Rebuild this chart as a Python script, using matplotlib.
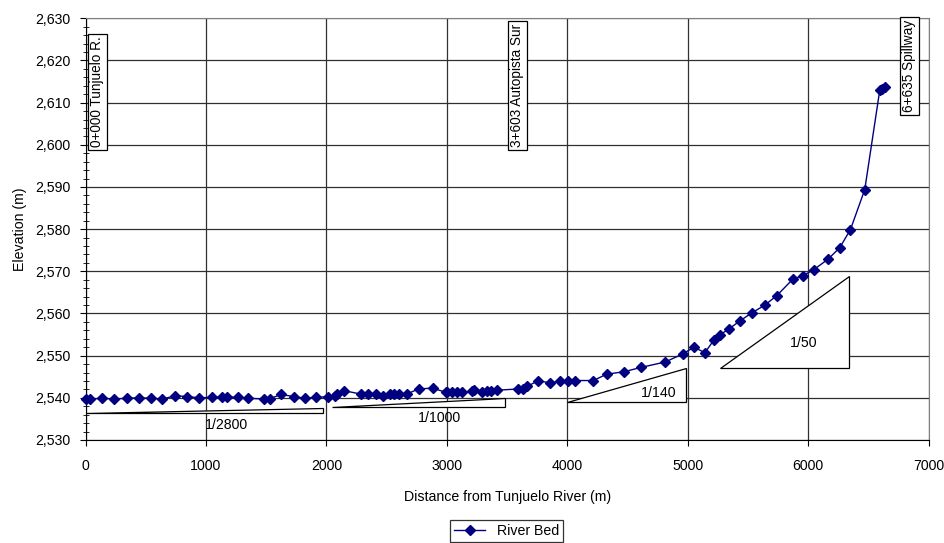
import matplotlib
matplotlib.use("Agg")
import matplotlib.pyplot as plt
from matplotlib.patches import Polygon
from matplotlib.ticker import MultipleLocator, FuncFormatter

plt.rcParams["font.family"] = ["Liberation Sans", "DejaVu Sans"]

# ---------------------------------------------------
#   river bed profile (chainage in m, elevation in m)
# ---------------------------------------------------

distance = [0, 37, 140, 237, 342, 441, 544, 638, 743, 845, 944, 1050,
            1135, 1177, 1263, 1351, 1481, 1531, 1622, 1728, 1824, 1916, 2015,
            2071, 2085, 2145, 2284, 2347, 2411, 2466, 2527, 2560, 2604, 2666,
            2765, 2881, 2992, 3004, 3039, 3085, 3122, 3210, 3224, 3288, 3334,
            3370, 3412, 3592, 3633, 3666, 3753, 3855, 3938, 4007, 4062, 4215,
            4326, 4473, 4609, 4813, 4957, 5051, 5142, 5216, 5264, 5340, 5430,
            5529, 5640, 5737, 5874, 5957, 6046, 6165, 6261, 6350, 6469, 6593,
            6616, 6635]

elevation = [2539.7, 2539.7, 2539.9, 2539.7, 2539.9, 2540.0, 2539.9, 2539.7,
             2540.5, 2540.3, 2540.0, 2540.1, 2540.2, 2540.2, 2540.1, 2539.9,
             2539.7, 2539.8, 2540.8, 2540.3, 2539.9, 2540.1, 2540.3, 2540.4,
             2540.9, 2541.7, 2540.9, 2540.9, 2541.0, 2540.4, 2540.9, 2541.0,
             2541.0, 2540.9, 2542.1, 2542.3, 2541.3, 2541.4, 2541.4, 2541.4,
             2541.4, 2541.5, 2541.8, 2541.4, 2541.5, 2541.6, 2541.8, 2542.1,
             2542.2, 2542.7, 2544.0, 2543.6, 2543.9, 2544.1, 2544.1, 2544.1,
             2545.6, 2546.2, 2547.2, 2548.5, 2550.4, 2552.0, 2550.7, 2553.7,
             2554.9, 2556.3, 2558.2, 2560.1, 2562.0, 2564.2, 2568.2, 2569.0,
             2570.4, 2572.9, 2575.6, 2579.9, 2589.4, 2612.9, 2613.2, 2613.8]

# station labels: (x, y, text)
station_x = [98, 3585, 6838]
station_y = [2599.4, 2599.5, 2607.8]
station_text = ["0+000 Tunjuelo R.", "3+603 Autopista Sur", "6+635 Spillway"]

# slope triangles: start x, end x, base elevation, top elevation
slope_x0 = [0, 2048, 3998, 5271]
slope_x1 = [1973, 3481, 4981, 6336]
slope_base = [2536.5, 2537.9, 2539.1, 2547.0]
slope_top = [2537.7, 2540.0, 2547.0, 2568.9]
slope_text = ["1/2800", "1/1000", "1/140", "1/50"]
slope_lx = [1170, 2936, 4754, 5963]
slope_ly = [2533.6, 2535.1, 2541.1, 2552.9]

# ---------------------------------------------------
#   figure
# ---------------------------------------------------

fig = plt.figure(figsize=(9.45, 5.43), dpi=100)
ax = fig.add_axes([0.0905, 0.1897, 0.8923, 0.7766])

ax.set_xlim(0, 7000)
ax.set_ylim(2530, 2630)

ax.xaxis.set_major_locator(MultipleLocator(1000))
ax.yaxis.set_major_locator(MultipleLocator(10))
ax.yaxis.set_minor_locator(MultipleLocator(2))
ax.yaxis.set_major_formatter(FuncFormatter(lambda v, p: f"{v:,.0f}"))

ax.grid(True, which="major", color="#303030", linewidth=0.9)
ax.set_axisbelow(True)

for side in ["top", "right"]:
    ax.spines[side].set_color("#808080")
for side in ["left", "bottom"]:
    ax.spines[side].set_color("black")

ax.tick_params(axis="both", which="major", direction="out", length=4,
               labelsize=10.2, color="black")
ax.tick_params(axis="x", which="major", pad=10)
ax.tick_params(axis="y", which="major", pad=7)
ax.tick_params(axis="y", which="minor", direction="inout", length=5,
               color="black")

# slope triangles
for x0, x1, yb, yt, txt, lx, ly in zip(slope_x0, slope_x1, slope_base,
                                       slope_top, slope_text, slope_lx,
                                       slope_ly):
    tri = Polygon([(x0, yb), (x1, yb), (x1, yt)], closed=True,
                  facecolor="white", edgecolor="black", linewidth=0.9,
                  zorder=3)
    ax.add_patch(tri)
    ax.text(lx, ly, txt, ha="center", va="center", fontsize=10.2, zorder=4)

# river bed line
ax.plot(distance, elevation, color="#000080", linewidth=1.0, marker="D",
        markersize=5.2, label="River Bed", zorder=5, clip_on=False)

# station labels
for sx, sy, st in zip(station_x, station_y, station_text):
    ax.text(sx, sy, st, rotation=90, ha="center", va="bottom", fontsize=9.8,
            zorder=6,
            bbox=dict(boxstyle="square,pad=0.2", facecolor="white",
                      edgecolor="black", linewidth=0.9))

ax.set_xlabel("Distance from Tunjuelo River (m)", fontsize=10.2, labelpad=12)
ax.set_ylabel("Elevation (m)", fontsize=10.2, labelpad=6)

leg = fig.legend(loc="lower center", bbox_to_anchor=(0.536, -0.012),
                 fontsize=10.2, frameon=True, fancybox=False,
                 edgecolor="black", handlelength=2.2, borderpad=0.3)
leg.get_frame().set_linewidth(0.9)

fig.savefig("out.png", dpi=100)
plt.close(fig)
